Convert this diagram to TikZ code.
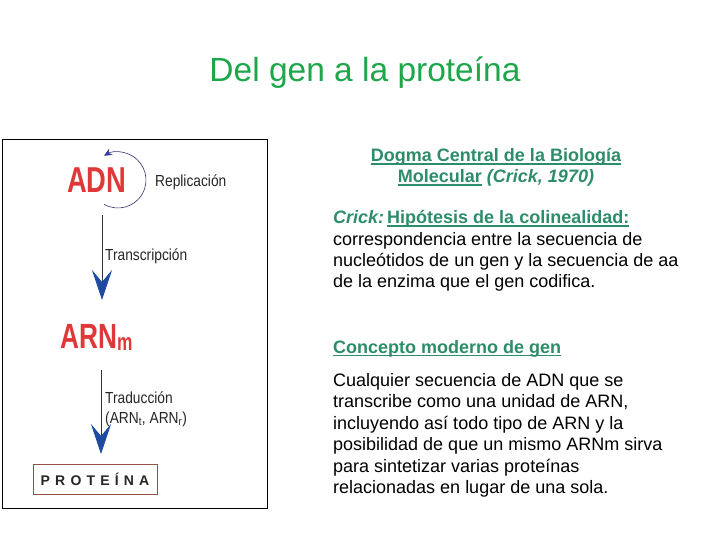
\documentclass[tikz,border=0pt]{standalone}
\usepackage{fontspec}
\setmainfont{Liberation Sans}
\usetikzlibrary{arrows.meta}
\definecolor{titlegreen}{RGB}{30,166,75}
\definecolor{headteal}{RGB}{45,140,105}
\definecolor{adnred}{RGB}{222,56,56}
\definecolor{arrowblue}{RGB}{30,75,160}
\definecolor{arcnavy}{RGB}{50,50,110}
\definecolor{arctip}{RGB}{55,55,160}
\definecolor{boxbrown}{RGB}{150,80,70}
\newsavebox{\myulbox}
\newcommand{\myul}[1]{\sbox{\myulbox}{#1}\rlap{\rule[-2.6pt]{\wd\myulbox}{1.1pt}}\usebox{\myulbox}}
\newcommand{\cond}[1]{\scalebox{0.86}[1]{#1}}
\begin{document}
\begin{tikzpicture}[x=1pt,y=-1pt,
  body/.style={anchor=base west, inner sep=0pt, font=\fontsize{18}{21}\selectfont, text=black},
  head/.style={anchor=base, inner sep=0pt, font=\fontsize{18}{21}\selectfont\bfseries, text=headteal},
  lbl/.style={anchor=base west, inner sep=0pt, font=\fontsize{16}{18}\selectfont, text=black!85},
  big/.style={anchor=base west, inner sep=0pt, text=adnred, font=\fontsize{36}{36}\selectfont\bfseries},
  flow/.style={draw=black!80, line width=0.8pt, -{Stealth[length=30pt,width=20pt,inset=12pt,color=arrowblue]}}
]
\useasboundingbox (0,0) rectangle (720,540);
\fill[white] (0,0) rectangle (720,540);

% title
\node[anchor=base, inner sep=0pt, text=titlegreen, font=\fontsize{33.5}{36}\selectfont] (title) at (365,82) {Del gen a la proteína};

% left panel
\node[draw=black, line width=1pt, minimum width=265, minimum height=369, anchor=north west, inner sep=0pt] (panel) at (2,139) {};

\node[big] (adn) at (67,193) {\scalebox{0.76}[1]{ADN}};
\node[lbl] (repl) at (155,187) {\cond{Replicación}};
\coordinate (adnc) at (118,180);
\draw[arcnavy, line width=0.6pt, -{Stealth[length=8pt,width=7pt,color=arctip]}] (adnc) ++(120:28) arc[start angle=120, end angle=-120, radius=28];

\coordinate (a1s) at (102,215);
\coordinate (a1e) at (102,300);
\draw[flow] (a1s) -- (a1e);
\node[lbl] (transc) at (105,260) {\cond{Transcripción}};

\node[big, font=\fontsize{35}{35}\selectfont\bfseries] (arn) at (60,348) {\scalebox{0.75}[1]{ARN}\raisebox{-2pt}{\scalebox{0.72}[1]{\fontsize{24}{24}\selectfont m}}};

\coordinate (a2s) at (101,370);
\coordinate (a2e) at (101,454);
\draw[flow] (a2s) -- (a2e);
\node[lbl] (trad) at (105,403) {\cond{Traducción}};
\node[lbl] (trad2) at (105,423) {\cond{(ARN\textsubscript{t}, ARN\textsubscript{r})}};

\node[draw=boxbrown, line width=0.8pt, minimum width=124, minimum height=30, inner sep=0pt, text=black!85,
  font=\fontsize{14}{16}\selectfont\bfseries\addfontfeature{LetterSpace=37}] (prot) at (95,479) {PROTEÍNA};

% right text
\node[head] (h1) at (496,162) {\myul{Dogma Central de la Biología}};
\node[head] (h2) at (496,183) {\myul{Molecular} \textit{(Crick, 1970)}};

\node[body] (l1) at (333,224) {{\color{headteal}\bfseries\itshape Crick:}\,{\color{headteal}\bfseries\myul{Hipótesis de la colinealidad:}}};
\node[body] (l2) at (333,245) {correspondencia entre la secuencia de};
\node[body] (l3) at (333,266) {nucleótidos de un gen y la secuencia de aa};
\node[body] (l4) at (333,287) {de la enzima que el gen codifica.};

\node[body, text=headteal, font=\fontsize{18}{21}\selectfont\bfseries] (c0) at (333,353) {\myul{Concepto moderno de gen}};
\node[body] (c1) at (333,386) {Cualquier secuencia de ADN que se};
\node[body] (c2) at (333,407.5) {transcribe como una unidad de ARN,};
\node[body] (c3) at (333,429) {incluyendo así todo tipo de ARN y la};
\node[body] (c4) at (333,450.5) {posibilidad de que un mismo ARNm sirva};
\node[body] (c5) at (333,472) {para sintetizar varias proteínas};
\node[body] (c6) at (333,493.5) {relacionadas en lugar de una sola.};
\end{tikzpicture}
\end{document}
